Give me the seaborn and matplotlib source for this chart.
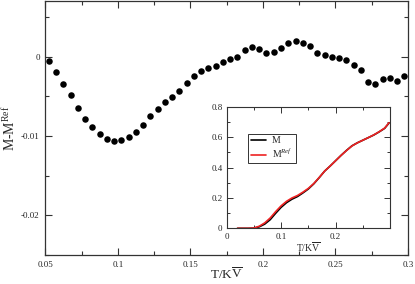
import numpy as np
import pandas as pd
import matplotlib
matplotlib.use("Agg")
import matplotlib.pyplot as plt
import seaborn as sns
from matplotlib.ticker import MultipleLocator

# main panel: M - M^Ref vs T/KV
t_main = [0.0525 + 0.005 * i for i in range(50)]
diff = [-0.00058, -0.00188, -0.00339, -0.00485, -0.00648, -0.00782, -0.00886, -0.00979,
        -0.01033, -0.01058, -0.01045, -0.01016, -0.00949, -0.00861, -0.00748, -0.00656,
        -0.00572, -0.00509, -0.00427, -0.00326, -0.00238, -0.00176, -0.00138, -0.00113,
        -0.00063, -0.00029, -0.00008, 0.00084, 0.00118, 0.00093, 0.00046, 0.00055,
        0.00113, 0.00176, 0.00201, 0.00168, 0.00130, 0.00046, 0.00017, -0.00004,
        -0.00013, -0.00045, -0.00100, -0.00167, -0.00317, -0.00343, -0.00276, -0.00263,
        -0.00309, -0.00238]

# inset: M and M^Ref
t_inset = [0.02, 0.03, 0.04, 0.05, 0.06, 0.07, 0.08, 0.09, 0.10, 0.11, 0.12, 0.13, 0.14,
           0.15, 0.16, 0.17, 0.18, 0.19, 0.20, 0.21, 0.22, 0.23, 0.24, 0.25, 0.26, 0.27,
           0.28, 0.29, 0.298]
m_ref = [0.0, 0.0, 0.0, 0.002, 0.014, 0.036, 0.068, 0.110, 0.148, 0.178, 0.200, 0.216,
         0.238, 0.263, 0.295, 0.335, 0.377, 0.410, 0.445, 0.480, 0.512, 0.542, 0.563,
         0.580, 0.597, 0.615, 0.636, 0.660, 0.695]
m_val = [0.0, 0.0, 0.0, 0.001, 0.010, 0.028, 0.057, 0.099, 0.138, 0.169, 0.192, 0.209,
         0.233, 0.259, 0.293, 0.334, 0.377, 0.410, 0.445, 0.480, 0.513, 0.543, 0.563,
         0.580, 0.597, 0.614, 0.635, 0.658, 0.693]

sns.set_style("ticks")
plt.rcParams['font.family'] = ['Liberation Serif', 'DejaVu Serif']
plt.rcParams['mathtext.fontset'] = 'custom'
plt.rcParams['mathtext.rm'] = 'Liberation Serif'
plt.rcParams['mathtext.it'] = 'Liberation Serif:italic'

fig = plt.figure(figsize=(4.15, 2.84), dpi=100)
ax = fig.add_axes([0.109, 0.102, 0.874, 0.894])

df = pd.DataFrame({"t": t_main, "d": diff})
sns.scatterplot(data=df, x="t", y="d", ax=ax, color="black", s=22, linewidth=0)

ax.set_xlim(0.05, 0.3)
ax.set_ylim(-0.025, 0.007)
ax.xaxis.set_minor_locator(MultipleLocator(0.025))
ax.yaxis.set_minor_locator(MultipleLocator(0.005))
ax.set_xticks([0.05, 0.1, 0.15, 0.2, 0.25, 0.3])
ax.set_xticklabels(["0.05", "0.1", "0.15", "0.2", "0.25", "0.3"])
ax.set_yticks([-0.02, -0.01, 0])
ax.set_yticklabels(["-0.02", "-0.01", "0"])
ax.tick_params(which="both", direction="in", top=True, right=True, labelsize=6.5,
               width=0.8, color="#333333", pad=4)
ax.tick_params(which="major", length=5)
ax.tick_params(which="minor", length=3)
for s in ax.spines.values():
    s.set_linewidth(0.9)
    s.set_color("#333333")
ax.set_xlabel(r"T/K$\overline{\mathrm{V}}$", fontsize=9.5, labelpad=-1)
ax.set_ylabel(r"M-M$^{\mathrm{Ref}}$", fontsize=10, labelpad=2)

# inset
axi = fig.add_axes([0.546, 0.196, 0.394, 0.428])
di = pd.DataFrame({"t": t_inset, "M": m_val, "R": m_ref})
sns.lineplot(data=di, x="t", y="M", ax=axi, color="black", linewidth=1.2, label="M")
sns.lineplot(data=di, x="t", y="R", ax=axi, color="#ee2222", linewidth=1.2,
             label=r"M$^{Ref}$")
axi.set_xlim(0, 0.3)
axi.set_ylim(0, 0.8)
axi.set_xticks([0, 0.1, 0.2])
axi.set_xticklabels(["0", "0.1", "0.2"])
axi.set_yticks([0, 0.2, 0.4, 0.6, 0.8])
axi.set_yticklabels(["0", "0.2", "0.4", "0.6", "0.8"])
axi.xaxis.set_minor_locator(MultipleLocator(0.05))
axi.yaxis.set_minor_locator(MultipleLocator(0.1))
axi.tick_params(which="both", direction="in", top=True, right=True, labelsize=6.5,
                width=0.7, color="#333333", pad=3)
axi.tick_params(which="major", length=4)
axi.tick_params(which="minor", length=2)
for s in axi.spines.values():
    s.set_linewidth(0.8)
    s.set_color("#333333")
axi.set_xlabel(r"T/K$\overline{\mathrm{V}}$", fontsize=7, labelpad=0)
axi.set_ylabel("")
leg = axi.legend(loc="upper left", bbox_to_anchor=(0.1, 0.82), fontsize=7,
                 frameon=True, fancybox=False, handlelength=1.6, borderpad=0.3,
                 labelspacing=0.2, handletextpad=0.6)
leg.get_frame().set_edgecolor("black")
leg.get_frame().set_linewidth(0.7)

fig.savefig("out.png", dpi=100)
